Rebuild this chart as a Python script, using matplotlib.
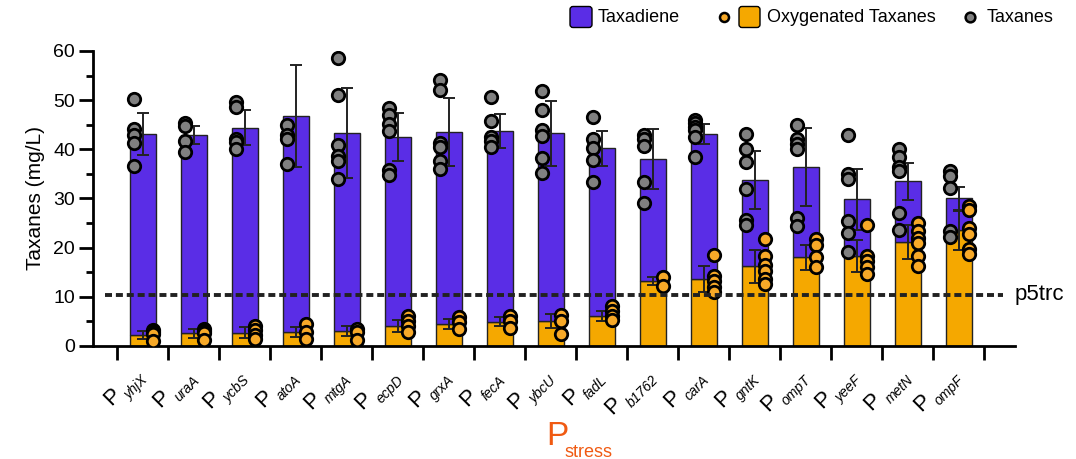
import matplotlib
matplotlib.use("Agg")
import matplotlib.pyplot as plt
import numpy as np
from matplotlib.patches import FancyBboxPatch
from matplotlib.lines import Line2D

plt.rcParams["font.family"] = ["Liberation Sans", "DejaVu Sans"]

# promoters (P_stress)
names = ["yhjX", "uraA", "ycbS", "atoA", "mtgA", "ecpD", "grxA", "fecA", "ybcU",
         "fadL", "b1762", "carA", "gntK", "ompT", "yeeF", "metN", "ompF"]

# total taxanes (bar top) mean and sd
total_mean = [43.1, 42.9, 44.4, 46.8, 43.3, 42.5, 43.5, 43.7, 43.3, 40.2, 38.1, 43.1,
              33.7, 36.4, 29.8, 33.5, 30.0]
total_err = [4.3, 1.8, 3.6, 10.3, 9.2, 4.8, 6.9, 3.5, 6.6, 3.6, 6.1, 2.0,
             5.9, 7.9, 6.3, 3.8, 2.4]

# oxygenated taxanes mean and sd
ox_mean = [2.2, 2.6, 2.7, 2.8, 3.0, 4.0, 4.5, 4.9, 5.1, 6.1, 13.2, 13.6,
           16.2, 18.0, 18.3, 21.2, 23.5]
ox_err = [0.75, 0.9, 1.1, 1.05, 1.0, 1.2, 0.95, 0.9, 1.35, 1.1, 0.8, 2.65,
          3.3, 2.45, 3.35, 3.45, 4.05]

# replicate points
taxanes_pts = [
    [50.2, 44.2, 42.9, 41.3, 36.7],
    [45.4, 44.7, 41.6, 39.4],
    [49.7, 48.7, 42.1, 41.4, 40.0],
    [45.0, 43.0, 42.0, 37.1],
    [58.6, 51.0, 40.8, 38.6, 37.6, 33.9],
    [48.4, 46.9, 45.2, 43.7, 35.7, 34.7],
    [54.2, 52.1, 41.3, 40.5, 37.6, 36.1],
    [50.6, 45.7, 42.5, 41.6, 40.5],
    [51.8, 47.9, 44.0, 42.7, 38.3, 35.2],
    [46.6, 42.2, 40.3, 37.8, 33.3],
    [43.0, 42.1, 40.6, 33.4, 29.0],
    [46.0, 45.3, 44.6, 44.0, 42.5, 38.4],
    [43.1, 40.0, 37.5, 32.0, 25.6, 24.6],
    [45.0, 42.1, 41.0, 40.0, 26.0, 24.4],
    [43.0, 34.9, 33.9, 25.4, 22.9, 19.2],
    [40.1, 38.5, 36.4, 35.6, 27.0, 23.6],
    [35.6, 34.5, 32.2, 23.4, 22.2],
]
oxy_pts = [
    [3.3, 2.8, 2.4, 1.1],
    [3.5, 3.0, 2.6, 1.3],
    [4.1, 3.3, 2.3, 1.4],
    [4.5, 2.8, 1.4],
    [3.5, 2.8, 1.3],
    [6.1, 5.1, 4.1, 2.8],
    [5.8, 4.9, 3.4],
    [6.1, 5.1, 3.6],
    [6.3, 5.1, 2.4],
    [8.2, 7.2, 6.1, 5.3],
    [14.1, 12.2],
    [18.5, 14.3, 13.2, 11.9, 10.9],
    [21.8, 18.3, 16.4, 15.3, 13.6, 12.6],
    [21.8, 20.5, 18.1, 16.0],
    [24.7, 18.3, 17.3, 16.0, 14.6],
    [25.1, 23.4, 22.0, 20.9, 18.3, 16.3],
    [28.5, 27.6, 24.1, 22.7, 19.8, 18.8],
]

baseline = 10.4  # p5trc reference level

purple = "#5a2de6"
orange = "#f5a800"
orange_dot = "#f7a928"
gray = "#808080"

W, H = 1076, 459
fig = plt.figure(figsize=(W / 100, H / 100), dpi=100)
ax = fig.add_axes([0.0864, 0.2462, 0.8569, 0.6427])

x = np.arange(len(names))
tot = np.array(total_mean)
ox = np.array(ox_mean)
w = 0.51

ax.bar(x, ox, width=w, color=orange, edgecolor="#222222", linewidth=1, zorder=2)
ax.bar(x, tot - ox, bottom=ox, width=w, color=purple, edgecolor="#222222", linewidth=1, zorder=2)
ax.errorbar(x, tot, yerr=total_err, fmt="none", ecolor="#222222", elinewidth=1.4,
            capsize=4, capthick=1.4, zorder=3)
ax.errorbar(x, ox, yerr=ox_err, fmt="none", ecolor="#222222", elinewidth=1.4,
            capsize=4, capthick=1.4, zorder=3)

for i in range(len(names)):
    ax.scatter([i - 0.17] * len(taxanes_pts[i]), taxanes_pts[i], s=80, color=gray,
               edgecolor="black", linewidth=2, zorder=4)
    ax.scatter([i + 0.19] * len(oxy_pts[i]), oxy_pts[i], s=80, color=orange_dot,
               edgecolor="black", linewidth=2, zorder=4)

ax.plot([-0.75, 16.86], [baseline, baseline], color="#222222", lw=2.8,
        dashes=(1.8, 1.0), zorder=5)
ax.text(17.1, baseline, "p5trc", fontsize=16, va="center", ha="left", clip_on=False)

ax.set_xlim(-0.98, 17.1)
ax.set_ylim(0, 60)
ax.spines["top"].set_visible(False)
ax.spines["right"].set_visible(False)
ax.spines["left"].set_linewidth(2)
ax.spines["bottom"].set_linewidth(2)
ax.set_yticks(np.arange(0, 61, 10))
ax.set_yticks(np.arange(5, 60, 10), minor=True)
ax.tick_params(axis="y", which="major", length=10, width=2, labelsize=14, pad=3)
ax.tick_params(axis="y", which="minor", length=5, width=2)

ax.set_xticks(x, [""] * len(x))
ax.set_xticks(np.arange(-0.5, 17, 1), minor=True)
ax.tick_params(axis="x", which="major", length=0)
ax.tick_params(axis="x", which="minor", length=10, width=2)

ax.set_ylabel("Taxanes (mg/L)", fontsize=15, labelpad=6)

# promoter labels: "P" + italic subscript, rotated 45 degrees (positions in pixels)
renderer = fig.canvas.get_renderer()
u = np.array([0.7071, 0.7071])      # along the rotated baseline
n_up = np.array([-0.7071, 0.7071])  # rotated "up"
for i, n in enumerate(names):
    tmp = fig.text(0, 0, n, fontsize=10, fontstyle="italic")
    L = tmp.get_window_extent(renderer).width
    tmp.remove()
    cx, cy = ax.transData.transform((i, 0))
    B = np.array([cx + 6, cy - 35])
    S = B - L * u
    Pa = S - 3 * u + 9 * n_up
    fig.text(B[0] / W, B[1] / H, n, fontsize=10, fontstyle="italic", rotation=45,
             rotation_mode="anchor", ha="right", va="baseline")
    fig.text(Pa[0] / W, Pa[1] / H, "P", fontsize=16, rotation=45,
             rotation_mode="anchor", ha="right", va="baseline")

fig.text(0.508, 0.03, "P", fontsize=24, color="#f05a12", ha="left", va="baseline")
fig.text(0.525, 0.005, "stress", fontsize=13, color="#f05a12", ha="left", va="baseline")

# legend drawn in pixel units (inches = px / 100)
tr = fig.dpi_scale_trans
ly = (H - 17) / 100
fig.add_artist(FancyBboxPatch((5.70, ly - 0.105), 0.22, 0.21, boxstyle="round,pad=0,rounding_size=0.03",
                              facecolor=purple, edgecolor="black", linewidth=1, transform=tr))
fig.add_artist(FancyBboxPatch((7.39, ly - 0.105), 0.21, 0.21, boxstyle="round,pad=0,rounding_size=0.03",
                              facecolor=orange, edgecolor="black", linewidth=1, transform=tr))
fig.add_artist(Line2D([7.24], [ly], transform=tr, marker="o", ls="none", markersize=6.5,
                      markerfacecolor=orange_dot, markeredgecolor="black", markeredgewidth=1.8))
fig.add_artist(Line2D([9.70], [ly], transform=tr, marker="o", ls="none", markersize=7,
                      markerfacecolor=gray, markeredgecolor="black", markeredgewidth=1.8))
for lx, lab in [(5.98, "Taxadiene"), (7.67, "Oxygenated Taxanes"), (9.87, "Taxanes")]:
    fig.text(lx, ly, lab, transform=tr, fontsize=13, ha="left", va="center")

fig.savefig("out.png", dpi=100)
